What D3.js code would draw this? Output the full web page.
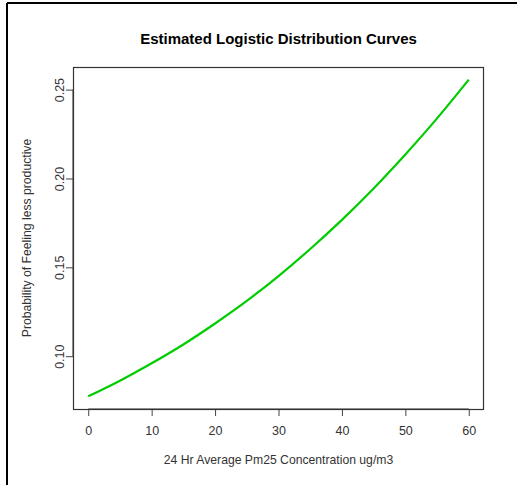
<!DOCTYPE html>
<html>
<head>
<meta charset="utf-8">
<script src="https://cdn.jsdelivr.net/npm/d3@7"></script>
<style>
  html, body { margin: 0; padding: 0; background: #ffffff; }
  svg { display: block; }
  text { font-family: "Liberation Sans", Arial, sans-serif; }
</style>
</head>
<body>
<svg id="chart" width="517" height="485"></svg>
<script>
// PM2.5 concentration (ug/m3) and estimated probability of feeling less productive
const concentration = [0, 5, 10, 15, 20, 25, 30, 35, 40, 45, 50, 55, 60];
const probability = [0.0774, 0.0862, 0.0960, 0.1066, 0.1184, 0.1311, 0.1451,
                     0.1603, 0.1767, 0.1944, 0.2135, 0.2338, 0.2556];
const xTicks = [0, 10, 20, 30, 40, 50, 60];
const yTicks = [0.10, 0.15, 0.20, 0.25];

const titleText = "Estimated Logistic Distribution Curves";
const xLabel = "24 Hr Average Pm25 Concentration ug/m3";
const yLabel = "Probability of Feeling less productive";

const svg = d3.select("#chart");
const plot = { left: 73, right: 484, top: 67, bottom: 409 };

// Pad each data range by 4% on both ends
function padded(values) {
  const [lo, hi] = d3.extent(values);
  const pad = (hi - lo) * 0.04;
  return [lo - pad, hi + pad];
}

const x = d3.scaleLinear().domain(padded(concentration)).range([plot.left, plot.right]);
const y = d3.scaleLinear().domain(padded(probability)).range([plot.bottom, plot.top]);

// Frame around the figure (top and left edges)
svg.append("line").attr("x1", 7).attr("x2", 517).attr("y1", 3).attr("y2", 3)
  .attr("stroke", "#000").attr("stroke-width", 2);
svg.append("line").attr("x1", 7).attr("x2", 7).attr("y1", 3).attr("y2", 485)
  .attr("stroke", "#000").attr("stroke-width", 2);

// Curve
const line = d3.line()
  .x((d, i) => x(concentration[i]))
  .y(d => y(d))
  .curve(d3.curveMonotoneX);

svg.append("path")
  .datum(probability)
  .attr("d", line)
  .attr("fill", "none")
  .attr("stroke", "#00CD00")
  .attr("stroke-width", 2.2);

// Axes
const xAxis = d3.axisBottom(x).tickValues(xTicks).tickSize(7).tickSizeOuter(0).tickPadding(10)
  .tickFormat(d3.format("d"));
const gx = svg.append("g").attr("transform", `translate(0,${plot.bottom})`).call(xAxis);
gx.select(".domain").remove();
gx.selectAll(".tick line").attr("stroke", "#444");
gx.selectAll(".tick text").attr("font-size", 12.5).attr("fill", "#333")
  .style("font-family", "'Liberation Sans', Arial, sans-serif");

const yAxis = d3.axisLeft(y).tickValues(yTicks).tickSize(7).tickSizeOuter(0)
  .tickFormat(d3.format(".2f"));
const gy = svg.append("g").attr("transform", `translate(${plot.left},0)`).call(yAxis);
gy.select(".domain").remove();
gy.selectAll(".tick line").attr("stroke", "#444");
gy.selectAll(".tick text")
  .attr("font-size", 12.5).attr("fill", "#333")
  .attr("x", null).attr("dy", null)
  .attr("text-anchor", "middle")
  .attr("transform", "translate(-9,0) rotate(-90)")
  .attr("y", 0)
  .style("font-family", "'Liberation Sans', Arial, sans-serif");

// Axis lines spanning the tick range
svg.append("line")
  .attr("x1", x(xTicks[0])).attr("x2", x(xTicks[xTicks.length - 1]))
  .attr("y1", plot.bottom).attr("y2", plot.bottom)
  .attr("stroke", "#333");
svg.append("line")
  .attr("x1", plot.left).attr("x2", plot.left)
  .attr("y1", y(yTicks[0])).attr("y2", y(yTicks[yTicks.length - 1]))
  .attr("stroke", "#333");

// Plot box
svg.append("rect")
  .attr("x", plot.left + 0.5).attr("y", plot.top + 0.5)
  .attr("width", plot.right - plot.left - 1).attr("height", plot.bottom - plot.top)
  .attr("fill", "none").attr("stroke", "#333").attr("stroke-width", 1.2);

// Titles
svg.append("text")
  .attr("x", (plot.left + plot.right) / 2).attr("y", 44)
  .attr("text-anchor", "middle")
  .attr("font-size", 15).attr("font-weight", "bold").attr("fill", "#000")
  .text(titleText);

svg.append("text")
  .attr("x", (plot.left + plot.right) / 2).attr("y", 464)
  .attr("text-anchor", "middle")
  .attr("font-size", 12.2).attr("fill", "#333")
  .text(xLabel);

svg.append("text")
  .attr("transform", `translate(31,${(plot.top + plot.bottom) / 2}) rotate(-90)`)
  .attr("text-anchor", "middle")
  .attr("font-size", 12.2).attr("fill", "#333")
  .text(yLabel);
</script>
</body>
</html>
